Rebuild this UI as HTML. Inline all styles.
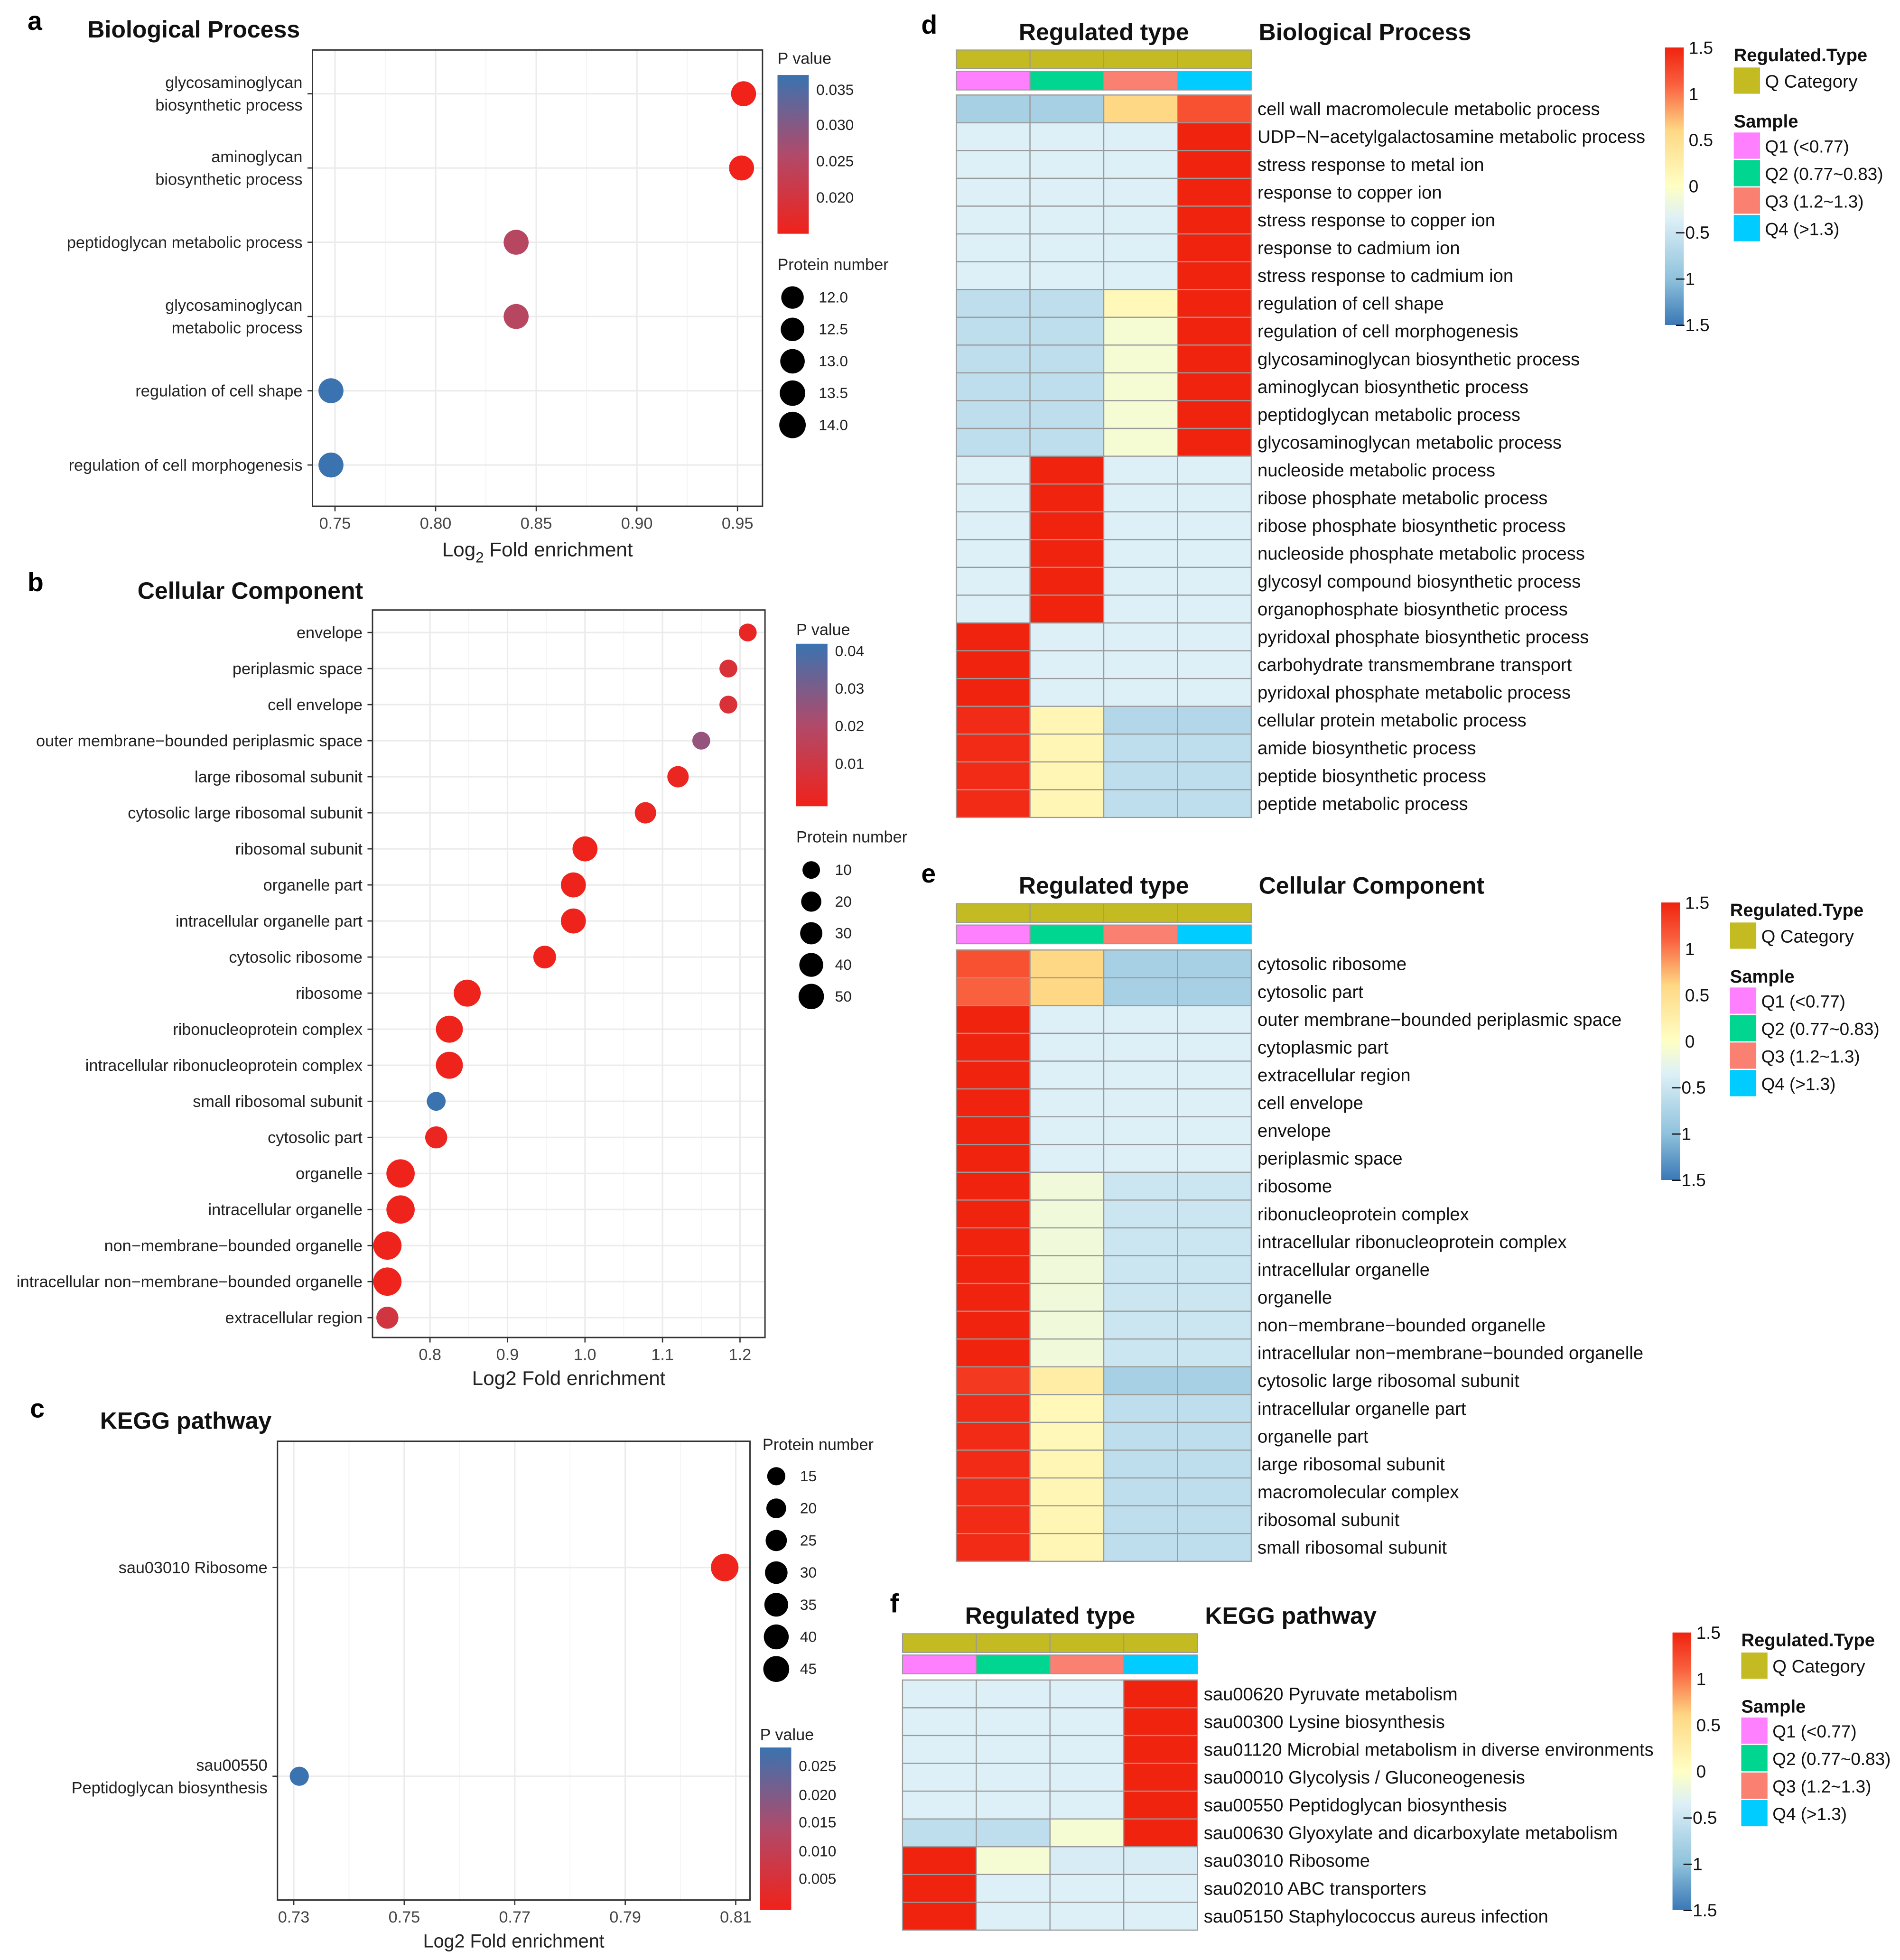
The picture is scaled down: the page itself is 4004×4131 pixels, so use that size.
<!DOCTYPE html>
<html><head><meta charset="utf-8"><style>
html,body{margin:0;padding:0;background:#fff}
svg{display:block;font-family:"Liberation Sans",Arial,sans-serif}
</style></head><body>
<svg id="s" xmlns="http://www.w3.org/2000/svg" width="4004" height="4131" viewBox="0 0 1520 1568" preserveAspectRatio="none"></svg>
<script>
// ---------- data ----------
const bpTerms=["glycosaminoglycan\nbiosynthetic process","aminoglycan\nbiosynthetic process","peptidoglycan metabolic process","glycosaminoglycan\nmetabolic process","regulation of cell shape","regulation of cell morphogenesis"];
const bpFold=[0.953,0.952,0.840,0.840,0.748,0.748];
const bpP=[0.018,0.018,0.026,0.026,0.036,0.036];
const bpXTicks=[0.75,0.80,0.85,0.90,0.95];

const ccTerms=["envelope","periplasmic space","cell envelope","outer membrane−bounded periplasmic space","large ribosomal subunit","cytosolic large ribosomal subunit","ribosomal subunit","organelle part","intracellular organelle part","cytosolic ribosome","ribosome","ribonucleoprotein complex","intracellular ribonucleoprotein complex","small ribosomal subunit","cytosolic part","organelle","intracellular organelle","non−membrane−bounded organelle","intracellular non−membrane−bounded organelle","extracellular region"];
const ccFold=[1.21,1.185,1.185,1.15,1.12,1.078,1.0,0.985,0.985,0.948,0.848,0.825,0.825,0.808,0.808,0.762,0.762,0.745,0.745,0.745];
const ccCount=[6,6,6,6,14,14,26,26,26,18,34,34,34,8,16,40,40,40,40,16];
const ccP=[0.003,0.008,0.008,0.025,0.002,0.002,0.001,0.001,0.001,0.001,0.001,0.001,0.001,0.04,0.002,0.001,0.001,0.001,0.001,0.01];
const ccXTicks=[0.8,0.9,1.0,1.1,1.2];

const kgTerms=["sau03010 Ribosome","sau00550\nPeptidoglycan biosynthesis"];
const kgFold=[0.808,0.731];
const kgCount=[45,15];
const kgP=[0.001,0.027];
const kgXTicks=[0.73,0.75,0.77,0.79,0.81];

const hmD=["cell wall macromolecule metabolic process","UDP−N−acetylgalactosamine metabolic process","stress response to metal ion","response to copper ion","stress response to copper ion","response to cadmium ion","stress response to cadmium ion","regulation of cell shape","regulation of cell morphogenesis","glycosaminoglycan biosynthetic process","aminoglycan biosynthetic process","peptidoglycan metabolic process","glycosaminoglycan metabolic process","nucleoside metabolic process","ribose phosphate metabolic process","ribose phosphate biosynthetic process","nucleoside phosphate metabolic process","glycosyl compound biosynthetic process","organophosphate biosynthetic process","pyridoxal phosphate biosynthetic process","carbohydrate transmembrane transport","pyridoxal phosphate metabolic process","cellular protein metabolic process","amide biosynthetic process","peptide biosynthetic process","peptide metabolic process"];
const hmDVals=[[-0.8,-0.8,0.6,1.2],[-0.35,-0.35,-0.35,1.5],[-0.35,-0.35,-0.35,1.5],[-0.35,-0.35,-0.35,1.5],[-0.35,-0.35,-0.35,1.5],[-0.35,-0.35,-0.35,1.5],[-0.35,-0.35,-0.35,1.5],[-0.6,-0.6,0.1,1.5],[-0.6,-0.6,-0.1,1.5],[-0.6,-0.6,-0.1,1.5],[-0.6,-0.6,-0.1,1.5],[-0.6,-0.6,-0.1,1.5],[-0.6,-0.6,-0.1,1.5],[-0.35,1.5,-0.35,-0.35],[-0.35,1.5,-0.35,-0.35],[-0.35,1.5,-0.35,-0.35],[-0.35,1.5,-0.35,-0.35],[-0.35,1.5,-0.35,-0.35],[-0.35,1.5,-0.35,-0.35],[1.5,-0.35,-0.35,-0.35],[1.5,-0.35,-0.35,-0.35],[1.5,-0.35,-0.35,-0.35],[1.45,0.15,-0.7,-0.7],[1.45,0.15,-0.6,-0.6],[1.45,0.15,-0.6,-0.6],[1.45,0.15,-0.6,-0.6]];
const hmE=["cytosolic ribosome","cytosolic part","outer membrane−bounded periplasmic space","cytoplasmic part","extracellular region","cell envelope","envelope","periplasmic space","ribosome","ribonucleoprotein complex","intracellular ribonucleoprotein complex","intracellular organelle","organelle","non−membrane−bounded organelle","intracellular non−membrane−bounded organelle","cytosolic large ribosomal subunit","intracellular organelle part","organelle part","large ribosomal subunit","macromolecular complex","ribosomal subunit","small ribosomal subunit"];
const hmEVals=[[1.2,0.6,-0.8,-0.8],[1.1,0.6,-0.8,-0.8],[1.5,-0.35,-0.35,-0.35],[1.5,-0.35,-0.35,-0.35],[1.5,-0.35,-0.35,-0.35],[1.5,-0.35,-0.35,-0.35],[1.5,-0.35,-0.35,-0.35],[1.5,-0.35,-0.35,-0.35],[1.5,-0.15,-0.5,-0.5],[1.5,-0.15,-0.5,-0.5],[1.5,-0.15,-0.5,-0.5],[1.5,-0.15,-0.5,-0.5],[1.5,-0.15,-0.5,-0.5],[1.5,-0.15,-0.5,-0.5],[1.5,-0.15,-0.5,-0.5],[1.35,0.3,-0.8,-0.8],[1.45,0.1,-0.6,-0.6],[1.45,0.1,-0.6,-0.6],[1.45,0.15,-0.6,-0.6],[1.45,0.15,-0.6,-0.6],[1.45,0.15,-0.6,-0.6],[1.45,0.15,-0.6,-0.6]];
const hmF=["sau00620 Pyruvate metabolism","sau00300 Lysine biosynthesis","sau01120 Microbial metabolism in diverse environments","sau00010 Glycolysis / Gluconeogenesis","sau00550 Peptidoglycan biosynthesis","sau00630 Glyoxylate and dicarboxylate metabolism","sau03010 Ribosome","sau02010 ABC transporters","sau05150 Staphylococcus aureus infection"];
const hmFVals=[[-0.35,-0.35,-0.35,1.5],[-0.35,-0.35,-0.35,1.5],[-0.35,-0.35,-0.35,1.5],[-0.35,-0.35,-0.35,1.5],[-0.35,-0.35,-0.35,1.5],[-0.6,-0.6,-0.1,1.5],[1.5,-0.1,-0.4,-0.4],[1.5,-0.35,-0.35,-0.35],[1.5,-0.35,-0.35,-0.35]];
const sampleLabels=["Q1 (<0.77)","Q2 (0.77~0.83)","Q3 (1.2~1.3)","Q4 (>1.3)"];
const sampleColors=["#ff80ff","#00d68f","#fa8072","#00ccff"];
const heatTicks=[1.5,1,0.5,0,-0.5,-1,-1.5];

// ---------- helpers ----------
const S=document.getElementById('s'),NS="http://www.w3.org/2000/svg";
function el(t,a,p){const e=document.createElementNS(NS,t);for(const k in a)e.setAttribute(k,a[k]);(p||S).appendChild(e);return e;}
function txt(x,y,s,a,p){const e=el('text',Object.assign({x:x,y:y,'font-size':13,fill:'#222'},a||{}),p);e.textContent=s;return e;}
function lerp(c1,c2,t){const a=parseInt(c1.slice(1),16),b=parseInt(c2.slice(1),16);const r=i=>Math.round(((a>>i)&255)*(1-t)+((b>>i)&255)*t);return `rgb(${r(16)},${r(8)},${r(0)})`;}
function ramp(stops,v){for(let i=0;i<stops.length-1;i++){if(v<=stops[i+1][0]){const t=(v-stops[i][0])/(stops[i+1][0]-stops[i][0]);return lerp(stops[i][1],stops[i+1][1],Math.max(0,Math.min(1,t)));}}return stops[stops.length-1][1];}
const heatStops=[[-1.5,"#3a78b6"],[-1,"#8fc2dc"],[-0.35,"#ddf0f7"],[0,"#ffffc4"],[0.6,"#fed885"],[1.1,"#f9603e"],[1.5,"#f0230f"]];
const heatCol=v=>ramp(heatStops,v);
function pCol(p,min,max){const t=(p-min)/(max-min);return ramp([[0,"#f0221a"],[0.5,"#b04a6a"],[1,"#3a73b0"]],t);}

function gradBar(id,x,y,w,h,stops){const d=el('defs',{});const g=el('linearGradient',{id:id,x1:0,y1:1,x2:0,y2:0},d);stops.forEach(s=>el('stop',{offset:s[0],'stop-color':s[1]},g));el('rect',{x:x,y:y,width:w,height:h,fill:`url(#${id})`,});}

function panelLabel(x,y,s){txt(x,y,s,{'font-size':21,'font-weight':'bold',fill:'#000',});}

// ---------- dot plot ----------
function dotPlot(o){
  const g=el('g',{});
  const xs=v=>o.x0+(v-o.v0)*o.k;
  el('rect',{x:o.L,y:o.T,width:o.R-o.L,height:o.B-o.T,fill:'#fff'},g);
  o.ticks.forEach(t=>{el('line',{x1:xs(t),x2:xs(t),y1:o.T,y2:o.B,stroke:'#ebebeb','stroke-width':1.2},g);});
  for(let i=0;i<o.ticks.length-1;i++){const m=(xs(o.ticks[i])+xs(o.ticks[i+1]))/2;el('line',{x1:m,x2:m,y1:o.T,y2:o.B,stroke:'#f4f4f4','stroke-width':0.7},g);}
  o.terms.forEach((t,i)=>{const y=o.rowY(i);el('line',{x1:o.L,x2:o.R,y1:y,y2:y,stroke:'#ebebeb','stroke-width':1.2},g);
    el('line',{x1:o.L-4,x2:o.L,y1:y,y2:y,stroke:'#333'},g);
    const lines=t.split('\n');lines.forEach((ln,j)=>{txt(o.L-8,y+4.5+(j-(lines.length-1)/2)*18,ln,{'text-anchor':'end','font-size':13,},g);});});
  o.ticks.forEach(t=>{el('line',{x1:xs(t),x2:xs(t),y1:o.B,y2:o.B+4,stroke:'#333'},g);
    txt(xs(t),o.B+18,o.fmt(t),{'text-anchor':'middle','font-size':13,fill:'#444'},g);});
  el('rect',{x:o.L,y:o.T,width:o.R-o.L,height:o.B-o.T,fill:'none',stroke:'#333','stroke-width':1.1},g);
  o.fold.forEach((v,i)=>{const c=el('circle',{cx:xs(v),cy:o.rowY(i),r:o.rad(i),fill:o.col(i)},g);
    });
  return g;
}

// Panel a
panelLabel(22,24,'a');
txt(70,30,'Biological Process',{'font-size':19,'font-weight':'bold',fill:'#111',});
dotPlot({name:'bp-dotplot',L:250,R:610,T:40,B:405,x0:268,v0:0.75,k:1610,ticks:bpXTicks,fmt:t=>t.toFixed(2),terms:bpTerms,fold:bpFold,
  rowY:i=>75+i*59.4,rad:i=>10,col:i=>pCol(bpP[i],0.018,0.036)});
const xt=el('text',{x:430,y:445,'font-size':16,'text-anchor':'middle',fill:'#222',});
xt.innerHTML='Log<tspan dy="5" font-size="12">2</tspan><tspan dy="-5"> Fold enrichment</tspan>';
txt(622,51,'P value',{'font-size':13});
gradBar('pbar-a',622,60,25,127,[[0,'#f0221a'],[0.5,'#b04a6a'],[1,'#3a73b0']]);
[["0.035",72],["0.030",100],["0.025",129],["0.020",158]].forEach(a=>txt(653,a[1]+4,a[0],{'font-size':12}));
txt(622,216,'Protein number',{'font-size':13});
["12.0","12.5","13.0","13.5","14.0"].forEach((s,i)=>{el('circle',{cx:634,cy:238+i*25.5,r:9+i*0.4,fill:'#000'});txt(655,242+i*25.5,s,{'font-size':12});});

// Panel b
panelLabel(22,473,'b');
txt(110,479,'Cellular Component',{'font-size':19,'font-weight':'bold',fill:'#111',});
dotPlot({name:'cc-dotplot',L:298,R:612,T:488,B:1070,x0:468,v0:1.0,k:620,ticks:ccXTicks,fmt:t=>t.toFixed(1),terms:ccTerms,fold:ccFold,
  rowY:i=>506+i*28.85,rad:i=>4.5+Math.sqrt(ccCount[i])*1.08,col:i=>pCol(ccP[i],0.0005,0.04)});
txt(455,1108,'Log2 Fold enrichment',{'font-size':16,'text-anchor':'middle',});
txt(637,508,'P value',{'font-size':13});
gradBar('pbar-b',637,515,25,130,[[0,'#f0221a'],[0.5,'#b04a6a'],[1,'#3a73b0']]);
[["0.04",521],["0.03",551],["0.02",581],["0.01",611]].forEach(a=>txt(668,a[1]+4,a[0],{'font-size':12}));
txt(637,674,'Protein number',{'font-size':13});
[10,20,30,40,50].forEach((n,i)=>{el('circle',{cx:649,cy:696+i*25.3,r:4.5+Math.sqrt(n)*0.8,fill:'#000'});txt(668,700+i*25.3,String(n),{'font-size':12});});

// Panel c
panelLabel(24,1134,'c');
txt(80,1143,'KEGG pathway',{'font-size':19,'font-weight':'bold',fill:'#111',});
dotPlot({name:'kegg-dotplot',L:222,R:600,T:1153,B:1520,x0:235,v0:0.73,k:4420,ticks:kgXTicks,fmt:t=>t.toFixed(2),terms:kgTerms,fold:kgFold,
  rowY:i=>1254+i*167,rad:i=>3+Math.sqrt(kgCount[i])*1.2,col:i=>pCol(kgP[i],0.0005,0.027)});
txt(411,1558,'Log2 Fold enrichment',{'font-size':15,'text-anchor':'middle',});
txt(610,1160,'Protein number',{'font-size':13});
[15,20,25,30,35,40,45].forEach((n,i)=>{el('circle',{cx:621,cy:1181+i*25.7,r:3+Math.sqrt(n)*1.1,fill:'#000'});txt(640,1185+i*25.7,String(n),{'font-size':12});});
txt(608,1392,'P value',{'font-size':13});
gradBar('pbar-c',608,1398,25,130,[[0,'#f0221a'],[0.5,'#b04a6a'],[1,'#3a73b0']]);
[["0.025",1413],["0.020",1436],["0.015",1458],["0.010",1481],["0.005",1503]].forEach(a=>txt(639,a[1]+4,a[0],{'font-size':12}));

// ---------- heatmaps ----------
function heatmap(o){
  const g=el('g',{});
  panelLabel(o.lx,o.ly,o.letter);
  txt(o.x+50,o.ty,'Regulated type',{'font-size':19,'font-weight':'bold',fill:'#111'},g);
  txt(o.x+242,o.ty,o.title,{'font-size':19,'font-weight':'bold',fill:'#111'},g);
  const cw=59,ch=o.ch;
  for(let j=0;j<4;j++){
    el('rect',{x:o.x+j*cw,y:o.cy,width:cw,height:15,fill:'#c4bb22',stroke:'#999','stroke-width':0.8},g);
    el('rect',{x:o.x+j*cw,y:o.cy+17,width:cw,height:15,fill:sampleColors[j],stroke:'#999','stroke-width':0.8},g);
  }
  o.rows.forEach((r,i)=>{const y=o.y0+i*ch;
    o.vals[i].forEach((v,j)=>{const c=el('rect',{x:o.x+j*cw,y:y,width:cw,height:ch,fill:heatCol(v),stroke:'#9a9a9a','stroke-width':0.9},g);
      });
    txt(o.x+4*cw+5,y+ch/2+5,r,{'font-size':14.5,fill:'#111'},g);});
  const lx=o.bx;
  const d=el('defs',{},g);const gr=el('linearGradient',{id:'hg'+o.letter,x1:0,y1:1,x2:0,y2:0},d);
  heatStops.forEach(s=>el('stop',{offset:(s[0]+1.5)/3,'stop-color':s[1]},gr));
  el('rect',{x:lx,y:o.by,width:15,height:222,fill:`url(#hg${o.letter})`},g);
  heatTicks.forEach(t=>{const yy=o.by+(1.5-t)/3*222;txt(t<0?lx+8:lx+19,yy+5,String(t).replace('-','−'),{'font-size':14,fill:'#111'},g);});
  const rx=lx+55;
  txt(rx,o.by+11,'Regulated.Type',{'font-size':14.5,'font-weight':'bold',fill:'#111'},g);
  el('rect',{x:rx,y:o.by+16,width:21,height:21,fill:'#c4bb22'},g);
  txt(rx+25,o.by+32,'Q Category',{'font-size':14.5,fill:'#111'},g);
  txt(rx,o.by+64,'Sample',{'font-size':14.5,'font-weight':'bold',fill:'#111'},g);
  sampleLabels.forEach((s,i)=>{el('rect',{x:rx,y:o.by+68+i*22,width:21,height:21,fill:sampleColors[i]},g);txt(rx+25,o.by+84+i*22,s,{'font-size':14,fill:'#111'},g);});
}
heatmap({name:'heatmap-bp',letter:'d',lx:737,ly:27,x:765,ty:32,title:'Biological Process',cy:40,y0:76,ch:22.23,rows:hmD,vals:hmDVals,bx:1332,by:38});
heatmap({name:'heatmap-cc',letter:'e',lx:737,ly:706,x:765,ty:715,title:'Cellular Component',cy:723,y0:760,ch:22.23,rows:hmE,vals:hmEVals,bx:1329,by:722});
heatmap({name:'heatmap-kegg',letter:'f',lx:712,ly:1290,x:722,ty:1299,title:'KEGG pathway',cy:1307,y0:1344,ch:22.23,rows:hmF,vals:hmFVals,bx:1338,by:1306});
</script>
</body></html>
